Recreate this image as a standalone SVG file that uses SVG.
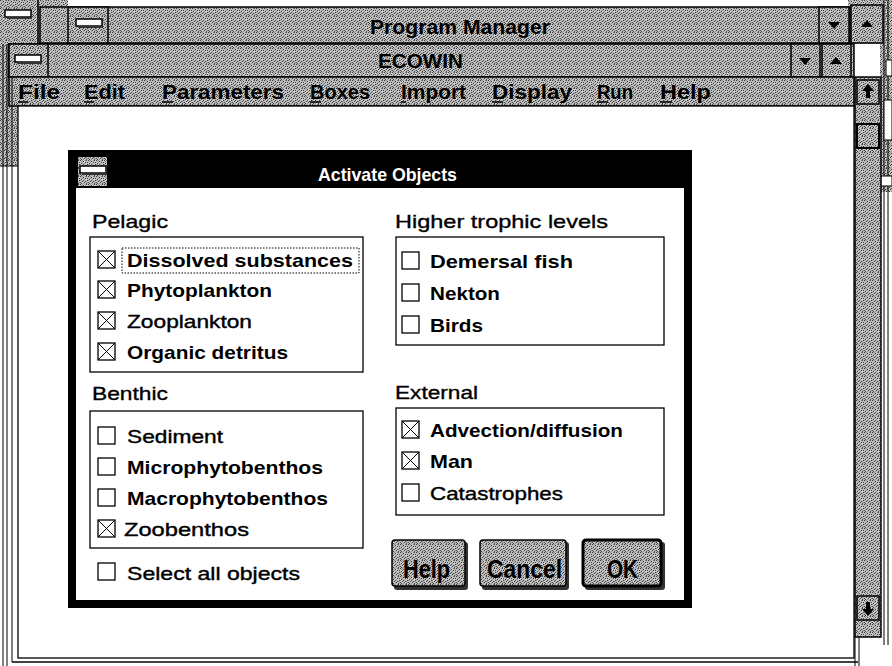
<svg xmlns="http://www.w3.org/2000/svg" width="892" height="666" viewBox="0 0 892 666">
<defs>
<pattern id="dith" width="8" height="8" patternUnits="userSpaceOnUse">
<rect width="8" height="8" fill="#c6c6c6"/>
<path d="M0,0h1v1h-1z M3,1h1v1h-1z M6,0h1v1h-1z M1,3h1v1h-1z M5,2h1v1h-1z M7,4h1v1h-1z M2,5h1v1h-1z M4,6h1v1h-1z M6,7h1v1h-1z M0,6h1v1h-1z M3,4h1v1h-1z M7,2h1v1h-1z M5,5h1v1h-1z M1,7h1v1h-1z" fill="#3a3a3a"/>
<path d="M2,0h1v1h-1z M4,3h1v1h-1z M6,5h1v1h-1z M0,4h1v1h-1z M3,7h1v1h-1z M7,6h1v1h-1z M1,1h1v1h-1z M5,0h1v1h-1z M2,2h1v1h-1z" fill="#888"/>
</pattern>
<g id="cbx"><rect x="0" y="0" width="17" height="17" fill="#fff" stroke="#000" stroke-width="1.3"/></g>
<g id="cbxx"><rect x="0" y="0" width="17" height="17" fill="#fff" stroke="#000" stroke-width="1.3"/><path d="M0,0 L17,17 M17,0 L0,17" stroke="#000" stroke-width="1"/></g>
<g id="ctl"><rect x="0" y="0" width="26" height="7" fill="#fff" stroke="#000" stroke-width="1.5"/><rect x="2" y="7" width="25" height="2" fill="#333"/></g>
<g id="dn"><polygon points="-6,-3 6,-3 0,4" fill="#000"/></g>
<g id="up"><polygon points="-6,3 6,3 0,-4" fill="#000"/></g>
</defs>
<style>
.t{font-family:"Liberation Sans",Arial,sans-serif;fill:#000}
.b{font-weight:bold}
.lab{font-size:19px;stroke:#000;stroke-width:0.35}
.it{font-size:19px}
.ttl{font-size:21px;font-weight:bold}
.btn{font-size:25px;font-weight:bold}
.bar{fill:url(#dith);stroke:#000;stroke-width:1.5}
.box{fill:#fff;stroke:#000;stroke-width:1.3}
</style>
<rect width="892" height="666" fill="#fff"/>

<g id="desktop-frame">
<rect x="0" y="0" width="68" height="44" fill="url(#dith)"/>
<rect x="0" y="44" width="18" height="122" fill="url(#dith)"/>
<rect x="848" y="0" width="44" height="44" fill="url(#dith)"/>
<rect x="880" y="44" width="12" height="148" fill="url(#dith)"/>
<use href="#ctl" x="5" y="10"/>
<line x1="38" y1="0" x2="38" y2="44" stroke="#000" stroke-width="1.5"/>
<line x1="3" y1="44" x2="3" y2="666" stroke="#000" stroke-width="1"/>
<line x1="7" y1="44" x2="7" y2="666" stroke="#000" stroke-width="1"/>
<line x1="0" y1="166" x2="18" y2="166" stroke="#000" stroke-width="1"/>
<line x1="884" y1="0" x2="884" y2="645" stroke="#000" stroke-width="1"/>
<line x1="888" y1="0" x2="888" y2="645" stroke="#000" stroke-width="1"/>
<rect x="886" y="60" width="6" height="16" fill="#fff" stroke="#000"/>
<rect x="884" y="100" width="8" height="40" fill="#fff" stroke="#000"/>
<rect x="880" y="176" width="12" height="10" fill="#fff" stroke="#000"/>
</g>

<g id="program-manager-titlebar">
<rect x="40" y="7" width="810" height="36" class="bar"/>
<rect x="68" y="7" width="40" height="36" class="bar"/>
<use href="#ctl" x="76" y="19"/>
<text x="370" y="34" class="t ttl" textLength="180" lengthAdjust="spacingAndGlyphs">Program Manager</text>
<rect x="819" y="7" width="30" height="36" class="bar"/>
<use href="#dn" x="834" y="25"/>
<rect x="851" y="5" width="32" height="38" class="bar"/>
<use href="#up" x="867" y="24"/>
</g>

<g id="ecowin-titlebar">
<rect x="9" y="44" width="845" height="33" class="bar"/>
<rect x="9" y="44" width="39" height="33" class="bar"/>
<use href="#ctl" x="15" y="55"/>
<text x="378" y="68" class="t ttl" textLength="85" lengthAdjust="spacingAndGlyphs">ECOWIN</text>
<rect x="791" y="44" width="29" height="33" class="bar"/>
<use href="#dn" x="805" y="61"/>
<rect x="822" y="44" width="29" height="33" class="bar"/>
<use href="#up" x="836" y="61"/>
</g>

<g id="menu-bar">
<rect x="9" y="77" width="845" height="29" class="bar"/>
<text y="99" class="t ttl">
<tspan x="18" textLength="42" lengthAdjust="spacingAndGlyphs">File</tspan>
<tspan x="84" textLength="41" lengthAdjust="spacingAndGlyphs">Edit</tspan>
<tspan x="162" textLength="122" lengthAdjust="spacingAndGlyphs">Parameters</tspan>
<tspan x="310" textLength="60" lengthAdjust="spacingAndGlyphs">Boxes</tspan>
<tspan x="401" textLength="65" lengthAdjust="spacingAndGlyphs">Import</tspan>
<tspan x="492" textLength="80" lengthAdjust="spacingAndGlyphs">Display</tspan>
<tspan x="597" textLength="36" lengthAdjust="spacingAndGlyphs">Run</tspan>
<tspan x="660" textLength="51" lengthAdjust="spacingAndGlyphs">Help</tspan>
</text>
<path d="M18,102h10M84,102h10M162,102h11M310,102h11M401,102h5M492,102h11M597,102h11M660,102h12" stroke="#000" stroke-width="1.5"/>
</g>

<g id="ecowin-client">
<rect x="18" y="106" width="836" height="552" fill="#fff" stroke="#000" stroke-width="1.3"/>
<line x1="12" y1="77" x2="12" y2="662" stroke="#000" stroke-width="1"/>
<line x1="12" y1="662" x2="858" y2="662" stroke="#000" stroke-width="1.3"/>
</g>

<g id="ecowin-scrollbar">
<rect x="855" y="77" width="26" height="560" class="bar"/>
<rect x="857" y="80" width="22" height="24" fill="url(#dith)" stroke="#000" stroke-width="1.5"/>
<path d="M868,84 l-6,7 h4 v7 h4 v-7 h4 z" fill="#000"/>
<rect x="857" y="124" width="22" height="24" fill="url(#dith)" stroke="#000" stroke-width="2"/>
<rect x="857" y="596" width="22" height="24" fill="url(#dith)" stroke="#000" stroke-width="1.5"/>
<path d="M868,616 l-6,-7 h4 v-7 h4 v7 h4 z" fill="#000"/>
<line x1="855" y1="637" x2="855" y2="666" stroke="#000" stroke-width="1"/>
<line x1="859" y1="637" x2="859" y2="666" stroke="#000" stroke-width="1"/>
</g>

<g id="dialog-frame">
<rect x="72" y="154" width="616" height="450" fill="#fff" stroke="#000" stroke-width="8"/>
<rect x="68" y="150" width="624" height="38" fill="#000"/>
<rect x="78" y="157" width="29" height="29" fill="url(#dith)"/>
<use href="#ctl" x="80" y="166"/>
<text x="318" y="181" class="t b" style="fill:#fff;font-size:19px" textLength="139" lengthAdjust="spacingAndGlyphs">Activate Objects</text>
</g>

<g id="pelagic">
<text x="92" y="228" class="t lab" textLength="76" lengthAdjust="spacingAndGlyphs">Pelagic</text>
<rect x="90" y="237" width="273" height="135" class="box"/>
<use href="#cbxx" x="98" y="251"/>
<rect x="122" y="248" width="237" height="25" fill="none" stroke="#000" stroke-width="1" stroke-dasharray="1.5 1.5"/>
<text x="127" y="267" class="t it b" textLength="226" lengthAdjust="spacingAndGlyphs">Dissolved substances</text>
<use href="#cbxx" x="98" y="281"/>
<text x="127" y="297" class="t it b" textLength="145" lengthAdjust="spacingAndGlyphs">Phytoplankton</text>
<use href="#cbxx" x="98" y="312"/>
<text x="127" y="328" class="t it" style="stroke:#000;stroke-width:0.4" textLength="125" lengthAdjust="spacingAndGlyphs">Zooplankton</text>
<use href="#cbxx" x="98" y="343"/>
<text x="127" y="359" class="t it b" textLength="161" lengthAdjust="spacingAndGlyphs">Organic detritus</text>
</g>

<g id="higher-trophic-levels">
<text x="395" y="228" class="t lab" textLength="213" lengthAdjust="spacingAndGlyphs">Higher trophic levels</text>
<rect x="396" y="237" width="268" height="108" class="box"/>
<use href="#cbx" x="402" y="252"/>
<text x="430" y="268" class="t it b" textLength="143" lengthAdjust="spacingAndGlyphs">Demersal fish</text>
<use href="#cbx" x="402" y="284"/>
<text x="430" y="300" class="t it b" textLength="70" lengthAdjust="spacingAndGlyphs">Nekton</text>
<use href="#cbx" x="402" y="316"/>
<text x="430" y="332" class="t it b" textLength="53" lengthAdjust="spacingAndGlyphs">Birds</text>
</g>

<g id="benthic">
<text x="92" y="400" class="t lab" textLength="76" lengthAdjust="spacingAndGlyphs">Benthic</text>
<rect x="90" y="411" width="273" height="137" class="box"/>
<use href="#cbx" x="98" y="427"/>
<text x="127" y="443" class="t it" style="stroke:#000;stroke-width:0.4" textLength="96" lengthAdjust="spacingAndGlyphs">Sediment</text>
<use href="#cbx" x="98" y="458"/>
<text x="127" y="474" class="t it b" textLength="196" lengthAdjust="spacingAndGlyphs">Microphytobenthos</text>
<use href="#cbx" x="98" y="489"/>
<text x="127" y="505" class="t it b" textLength="201" lengthAdjust="spacingAndGlyphs">Macrophytobenthos</text>
<use href="#cbxx" x="98" y="520"/>
<text x="124" y="536" class="t it" style="stroke:#000;stroke-width:0.4" textLength="125" lengthAdjust="spacingAndGlyphs">Zoobenthos</text>
</g>

<g id="external">
<text x="395" y="399" class="t lab" textLength="83" lengthAdjust="spacingAndGlyphs">External</text>
<rect x="396" y="408" width="268" height="107" class="box"/>
<use href="#cbxx" x="402" y="421"/>
<text x="430" y="437" class="t it b" textLength="193" lengthAdjust="spacingAndGlyphs">Advection/diffusion</text>
<use href="#cbxx" x="402" y="452"/>
<text x="430" y="468" class="t it b" textLength="43" lengthAdjust="spacingAndGlyphs">Man</text>
<use href="#cbx" x="402" y="484"/>
<text x="430" y="500" class="t it" style="stroke:#000;stroke-width:0.4" textLength="133" lengthAdjust="spacingAndGlyphs">Catastrophes</text>
</g>

<g id="select-all">
<use href="#cbx" x="98" y="563"/>
<text x="127" y="580" class="t it" style="stroke:#000;stroke-width:0.4" textLength="173" lengthAdjust="spacingAndGlyphs">Select all objects</text>
</g>

<g id="btn-help">
<rect x="394" y="542" width="74" height="48" rx="3" fill="#333"/>
<rect x="392" y="540" width="73" height="46" rx="3" fill="url(#dith)" stroke="#000" stroke-width="1.5"/>
<text x="403" y="578" class="t btn" textLength="47" lengthAdjust="spacingAndGlyphs">Help</text>
</g>
<g id="btn-cancel">
<rect x="482" y="542" width="87" height="48" rx="3" fill="#333"/>
<rect x="480" y="540" width="86" height="46" rx="3" fill="url(#dith)" stroke="#000" stroke-width="1.5"/>
<text x="487" y="578" class="t btn" textLength="75" lengthAdjust="spacingAndGlyphs">Cancel</text>
</g>
<g id="btn-ok">
<rect x="585" y="542" width="80" height="48" rx="3" fill="#333"/>
<rect x="583" y="540" width="78" height="46" rx="3" fill="url(#dith)" stroke="#000" stroke-width="3"/>
<text x="607" y="578" class="t btn" textLength="31" lengthAdjust="spacingAndGlyphs">OK</text>
</g>

<g id="connectors"></g>
</svg>
